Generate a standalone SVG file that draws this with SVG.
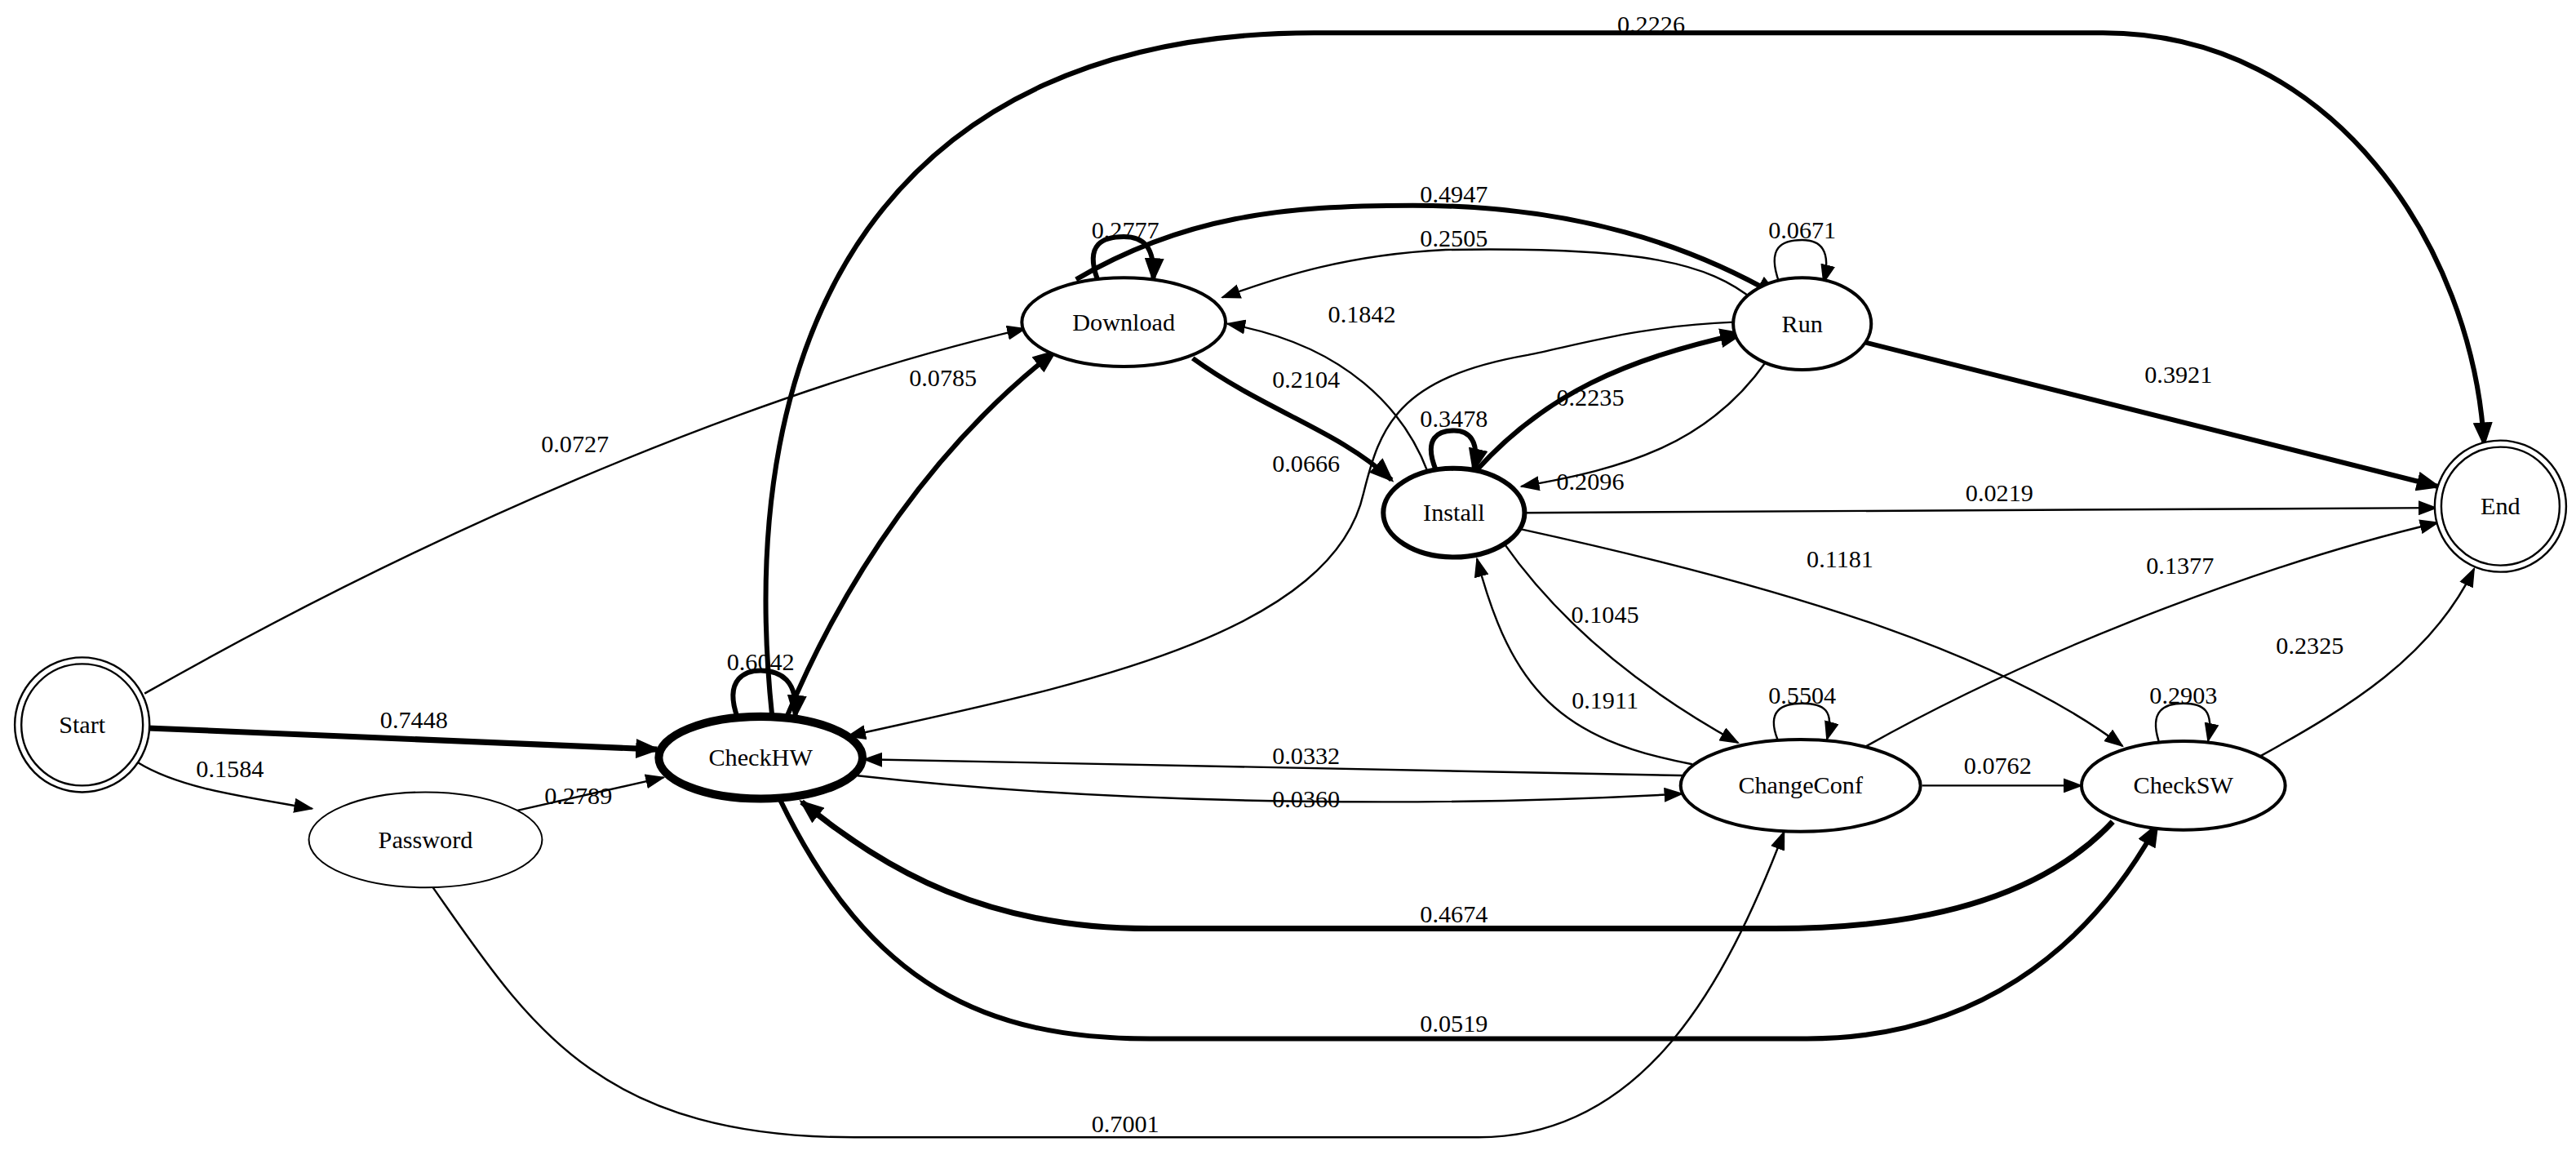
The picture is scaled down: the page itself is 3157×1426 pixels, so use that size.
<svg xmlns="http://www.w3.org/2000/svg" width="3157" height="1426" viewBox="0 0 3157 1426">
<style>
.n{fill:#fff;stroke:#000}
.t{font-family:"Liberation Serif","Times New Roman",serif;font-size:15px;text-anchor:middle;fill:#000}
.e{fill:none;stroke:#000;stroke-width:1.2}
.k{stroke-width:3}
.a{marker-end:url(#h)}
.b{marker-end:url(#H)}
</style>
<defs>
<marker id="h" markerUnits="userSpaceOnUse" markerWidth="12" markerHeight="9" refX="11" refY="4.5" orient="auto"><path d="M0,0 L12,4.5 L0,9 z"/></marker>
<marker id="H" markerUnits="userSpaceOnUse" markerWidth="15" markerHeight="12" refX="13" refY="6" orient="auto"><path d="M0,0 L15,6 L0,12 z"/></marker>
</defs>
<rect width="3157" height="1426" fill="#fff"/>
<g transform="scale(2.0134)">
<g id="connectors">
<path class="e k b" style="stroke-width:3.5" d="M90,443 L400,456"/><text class="t" x="252" y="443">0.7448</text>
<path class="e a" d="M84,464 C110,480 150,485 190,492"/><text class="t" x="140" y="473">0.1584</text>
<path class="e a" d="M88,422 C250,330 450,240 624,200"/><text class="t" x="350" y="275">0.0727</text>
<path class="e a" d="M298,497 L404,473"/><text class="t" x="352" y="489">0.2789</text>
<path class="e a" d="M260,535 C320,620 360,692 520,692 L900,692 C1000,692 1050,600 1086,506"/><text class="t" x="685" y="689">0.7001</text>
<path class="e k b" d="M449,437 C440,412 455,408 463,408 C475,408 486,414 484,436"/><text class="t" x="463" y="408">0.6042</text>
<path class="e k b" d="M479,436 C515,350 570,270 642,214"/><text class="t" x="574" y="235">0.0785</text>
<path class="e k b" d="M470,436 C445,200 540,20 800,20 L1280,20 C1420,20 1505,150 1512,270"/><text class="t" x="1005" y="20">0.2226</text>
<path class="e a" d="M522,472 C700,492 900,490 1024,483"/><text class="t" x="795" y="491">0.0360</text>
<path class="e a" d="M1030,472 L526,462"/><text class="t" x="795" y="465">0.0332</text>
<path class="e k b" style="stroke-width:3.5" d="M1286,500 C1230,560 1130,565 1080,565 L700,565 C600,565 540,530 488,488"/><text class="t" x="885" y="561">0.4674</text>
<path class="e k b" d="M475,487 C530,600 600,632 700,632 L1100,632 C1200,632 1270,580 1313,502"/><text class="t" x="885" y="628">0.0519</text>
<path class="e a" d="M1055,196 C1000,198 960,210 930,216 C850,230 840,260 830,300 C810,390 640,420 516,448"/><text class="t" x="795" y="287">0.0666</text>
<path class="e k b" d="M668,170 C660,148 672,144 684,144 C696,144 703,150 702,170"/><text class="t" x="685" y="145">0.2777</text>
<path class="e k b" d="M655,170 C720,132 780,125 860,125 C960,125 1030,150 1082,180"/><text class="t" x="885" y="123">0.4947</text>
<path class="e a" d="M1068,183 C1040,160 1000,150 880,152 C820,155 780,168 744,181"/><text class="t" x="885" y="150">0.2505</text>
<path class="e a" d="M869,287 C855,250 820,210 747,197"/><text class="t" x="829" y="196">0.1842</text>
<path class="e k b" d="M726,218 C770,250 815,262 847,292"/><text class="t" x="795" y="236">0.2104</text>
<path class="e k b" d="M874,286 C866,266 876,262 885,262 C894,262 901,268 897,286"/><text class="t" x="885" y="260">0.3478</text>
<path class="e k b" d="M898,287 C940,240 990,218 1060,203"/><text class="t" x="968" y="247">0.2235</text>
<path class="e a" d="M1075,220 C1040,270 990,285 926,296"/><text class="t" x="968" y="298">0.2096</text>
<path class="e a" d="M1083,172 C1075,150 1085,146 1097,146 C1108,146 1115,152 1110,172"/><text class="t" x="1097" y="145">0.0671</text>
<path class="e k b" d="M1130,207 L1484,296"/><text class="t" x="1326" y="233">0.3921</text>
<path class="e a" d="M928,312 L1483,309"/><text class="t" x="1217" y="305">0.0219</text>
<path class="e a" d="M915,330 C950,380 1000,420 1058,452"/><text class="t" x="977" y="379">0.1045</text>
<path class="e a" d="M1030,465 C950,450 920,420 899,340"/><text class="t" x="977" y="431">0.1911</text>
<path class="e a" d="M926,322 C1100,360 1220,400 1292,454"/><text class="t" x="1120" y="345">0.1181</text>
<path class="e a" d="M1136,454 C1250,390 1390,340 1484,318"/><text class="t" x="1327" y="349">0.1377</text>
<path class="e a" d="M1170,478 L1267,478"/><text class="t" x="1216" y="471">0.0762</text>
<path class="e a" d="M1082,450 C1075,432 1085,428 1097,428 C1110,428 1117,432 1112,450"/><text class="t" x="1097" y="428">0.5504</text>
<path class="e a" d="M1314,451 C1308,432 1318,428 1329,428 C1341,428 1348,432 1344,451"/><text class="t" x="1329" y="428">0.2903</text>
<path class="e a" d="M1376,460 C1430,430 1480,400 1506,346"/><text class="t" x="1406" y="398">0.2325</text>
</g>
<g id="Start"><circle class="n" cx="50" cy="441" r="41" stroke-width="1.2"/><circle class="n" cx="50" cy="441" r="37" stroke-width="1.2"/><text class="t" x="50" y="446">Start</text></g>
<g id="CheckHW"><ellipse class="n" cx="463" cy="461" rx="62" ry="25" stroke-width="5"/><text class="t" x="463" y="466">CheckHW</text></g>
<g id="Password"><ellipse class="n" cx="259" cy="511" rx="71" ry="29" stroke-width="1"/><text class="t" x="259" y="516">Password</text></g>
<g id="Download"><ellipse class="n" cx="684" cy="196" rx="62" ry="27" stroke-width="2"/><text class="t" x="684" y="201">Download</text></g>
<g id="Install"><ellipse class="n" cx="885" cy="312" rx="43" ry="27" stroke-width="3"/><text class="t" x="885" y="317">Install</text></g>
<g id="Run"><ellipse class="n" cx="1097" cy="197" rx="42" ry="28" stroke-width="2"/><text class="t" x="1097" y="202">Run</text></g>
<g id="End"><circle class="n" cx="1522" cy="308" r="40" stroke-width="1.2"/><circle class="n" cx="1522" cy="308" r="36" stroke-width="1.2"/><text class="t" x="1522" y="313">End</text></g>
<g id="ChangeConf"><ellipse class="n" cx="1096" cy="478" rx="73" ry="28" stroke-width="2"/><text class="t" x="1096" y="483">ChangeConf</text></g>
<g id="CheckSW"><ellipse class="n" cx="1329" cy="478" rx="62" ry="27" stroke-width="2"/><text class="t" x="1329" y="483">CheckSW</text></g>
</g>
</svg>
